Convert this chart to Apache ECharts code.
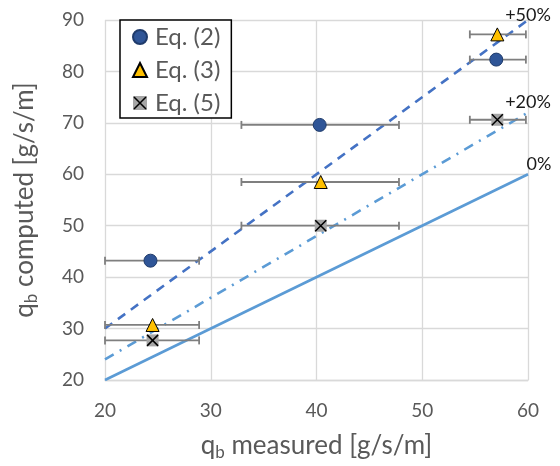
<!DOCTYPE html>
<html>
<head>
<meta charset="utf-8">
<script src="https://cdn.jsdelivr.net/npm/echarts@6/dist/echarts.min.js"></script>
<style>html,body{margin:0;padding:0;background:#fff}#c{width:560px;height:466px}</style>
</head>
<body>
<div id="c"></div>
<script>
// ---- data ----
const eq2X = [24.3, 40.3, 57.0];
const eq2Y = [43.2, 69.6, 82.3];
const eq3X = [24.5, 40.4, 57.1];
const eq3Y = [30.7, 58.5, 87.2];
const eq5X = [24.5, 40.4, 57.1];
const eq5Y = [27.7, 50.0, 70.6];
const errLo = [20.0, 32.9, 54.5];
const errHi = [28.9, 47.8, 59.8];
const refFactors = [1.5, 1.2, 1.0];
const refLabels = ['+50%', '+20%', '0%'];
const xRange = [20, 60];
const yRange = [20, 90];
const seriesNames = ['Eq. (2)', 'Eq. (3)', 'Eq. (5)'];

const FONT = 'Lato';
const pts = (xs, ys) => xs.map((x, i) => [x, ys[i]]);
const errData = [];
[[eq2X, eq2Y], [eq3X, eq3Y], [eq5X, eq5Y]].forEach(([xs, ys]) => {
  ys.forEach((y, i) => errData.push([errLo[i], errHi[i], y]));
});

const xIconSvg = '<svg xmlns="http://www.w3.org/2000/svg" width="14" height="14" viewBox="0 0 14 14">' +
  '<rect x="0" y="0" width="14" height="14" fill="#A6A6A6"/>' +
  '<path d="M1,1L13,13M13,1L1,13" stroke="#000" stroke-width="1.5"/></svg>';
const xIcon = 'image://data:image/svg+xml;charset=utf-8,' + encodeURIComponent(xIconSvg);

const refStyles = [
  {color: '#4472C4', type: [9, 7]},
  {color: '#5B9BD5', type: [10, 7, 2, 7]},
  {color: '#5B9BD5', type: 'solid'}
];
const refOffsets = [[0, -5], [0, -10], [11, -10]];

const series = [];
refFactors.forEach((f, k) => {
  series.push({
    type: 'line',
    data: xRange.map(x => [x, x * f]),
    symbol: 'none',
    silent: true,
    z: 1,
    lineStyle: {color: refStyles[k].color, type: refStyles[k].type, width: 2.6},
    endLabel: {
      show: true, formatter: refLabels[k], align: 'center', verticalAlign: 'middle',
      distance: 0, offset: refOffsets[k], fontFamily: FONT, fontSize: 18, color: '#1a1a1a'
    }
  });
});
series.push({
  type: 'custom',
  coordinateSystem: 'cartesian2d',
  data: errData,
  encode: {x: [0, 1], y: 2},
  z: 2,
  silent: true,
  renderItem: function (params, api) {
    const p1 = api.coord([api.value(0), api.value(2)]);
    const p2 = api.coord([api.value(1), api.value(2)]);
    const h = 4;
    const st = {stroke: '#7F7F7F', lineWidth: 1.8};
    return {
      type: 'group',
      children: [
        {type: 'line', shape: {x1: p1[0], y1: p1[1], x2: p2[0], y2: p2[1]}, style: st},
        {type: 'line', shape: {x1: p1[0], y1: p1[1] - h, x2: p1[0], y2: p1[1] + h}, style: st},
        {type: 'line', shape: {x1: p2[0], y1: p2[1] - h, x2: p2[0], y2: p2[1] + h}, style: st}
      ]
    };
  }
});
series.push({
  name: seriesNames[0], type: 'scatter', data: pts(eq2X, eq2Y), symbol: 'circle', symbolSize: 13, z: 5,
  itemStyle: {color: '#2F5597', borderColor: '#1F3B6B', borderWidth: 1, opacity: 1}
});
series.push({
  name: seriesNames[1], type: 'scatter', data: pts(eq3X, eq3Y), symbol: 'triangle', symbolSize: 13, z: 5,
  itemStyle: {color: '#FFC000', borderColor: '#000', borderWidth: 1, opacity: 1}
});
series.push({
  name: seriesNames[2], type: 'scatter', data: pts(eq5X, eq5Y), symbol: 'rect', symbolSize: 12, z: 5,
  itemStyle: {color: '#A6A6A6', opacity: 1}
});
series.push({
  type: 'scatter', data: pts(eq5X, eq5Y), symbol: 'path://M0,0L10,10M10,0L0,10', symbolSize: 11, z: 6,
  silent: true,
  itemStyle: {color: 'none', borderColor: '#000', borderWidth: 1.5, opacity: 1}
});

const titleRich = {
  a: {fontFamily: FONT, fontSize: 26, color: '#595959', lineHeight: 30},
  b: {fontFamily: FONT, fontSize: 17, color: '#595959', lineHeight: 15, verticalAlign: 'bottom'}
};

const chart = echarts.init(document.getElementById('c'), null, {renderer: 'canvas'});
chart.setOption({
  animation: false,
  backgroundColor: '#fff',
  grid: {left: 105, right: 32, top: 20, bottom: 84, containLabel: false},
  legend: {
    orient: 'vertical', left: 120, top: 20,
    padding: [5, 11, 3, 12], itemGap: 9, itemWidth: 14, itemHeight: 14,
    borderColor: '#000', borderWidth: 1.5, backgroundColor: '#fff',
    textStyle: {fontFamily: FONT, fontSize: 24, lineHeight: 24, color: '#595959', padding: [0, 0, 0, 3]},
    data: [
      {name: seriesNames[0]},
      {name: seriesNames[1]},
      {name: seriesNames[2], icon: xIcon}
    ]
  },
  xAxis: {
    type: 'value', min: xRange[0], max: xRange[1], interval: 10,
    axisLine: {show: true, lineStyle: {color: '#D9D9D9', width: 1.3}},
    axisTick: {show: false},
    splitLine: {lineStyle: {color: '#D9D9D9', width: 1.3}},
    axisLabel: {fontFamily: FONT, fontSize: 19, color: '#595959', margin: 21},
    name: '{a|q}{b|b}{a| measured [g/s/m]}',
    nameLocation: 'middle', nameGap: 51,
    nameTextStyle: {rich: titleRich}
  },
  yAxis: {
    type: 'value', min: yRange[0], max: yRange[1], interval: 10,
    axisLine: {show: false},
    axisTick: {show: false},
    splitLine: {lineStyle: {color: '#D9D9D9', width: 1.3}},
    axisLabel: {fontFamily: FONT, fontSize: 19, color: '#595959', margin: 21},
    name: '{a|q}{b|b}{a| computed [g/s/m]}',
    nameLocation: 'middle', nameGap: 65, nameRotate: 90,
    nameTextStyle: {rich: titleRich}
  },
  series: series
});
</script>
</body>
</html>
